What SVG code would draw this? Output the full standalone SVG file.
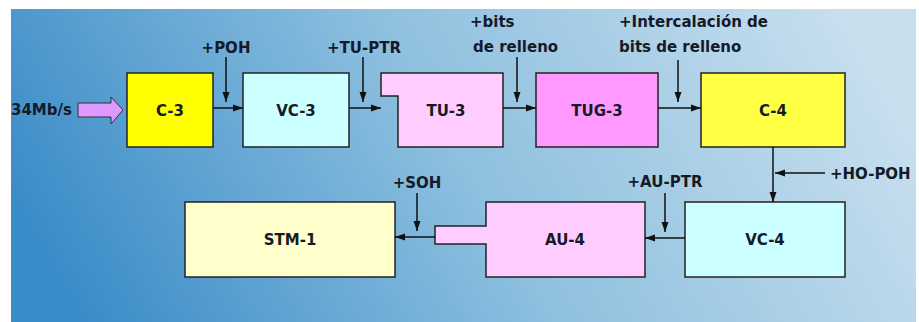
<svg xmlns="http://www.w3.org/2000/svg" width="919" height="322" viewBox="0 0 919 322">
<defs>
<linearGradient id="bg" x1="0" y1="0.6" x2="1" y2="0.4">
<stop offset="0" stop-color="#3a8cc8"/>
<stop offset="0.5" stop-color="#8ec0df"/>
<stop offset="1" stop-color="#c8dfee"/>
</linearGradient>
<marker id="ah" markerWidth="10" markerHeight="8" refX="10" refY="4" orient="auto" markerUnits="userSpaceOnUse">
<path d="M0,0.5 L10,4 L0,7.5 Z" fill="#111"/>
</marker>
<style>
.box{stroke:#222;stroke-width:1.5}
.lbl{font-family:"DejaVu Sans","Liberation Sans",Arial,sans-serif;font-weight:bold;font-size:15px;fill:#151a28;text-anchor:middle}
.txt{font-family:"DejaVu Sans","Liberation Sans",Arial,sans-serif;font-weight:bold;font-size:15px;fill:#151a28}
.ln{stroke:#111;stroke-width:1.5;fill:none;marker-end:url(#ah)}
</style>
</defs>
<rect x="0" y="0" width="919" height="322" fill="#ffffff"/>
<rect x="11" y="9" width="905" height="313" fill="url(#bg)"/>

<g id="input">
<text class="txt" x="11" y="115">34Mb/s</text>
<path d="M78,103 L111,103 L111,97 L123,110 L111,124 L111,117 L78,117 Z" fill="#dd99ff" stroke="#333" stroke-width="1"/>
</g>

<g id="c3">
<rect class="box" x="127" y="73" width="86" height="74" fill="#ffff00"/>
<text class="lbl" x="170" y="116">C-3</text>
</g>
<g id="vc3">
<rect class="box" x="243" y="73" width="106" height="74" fill="#ccffff"/>
<text class="lbl" x="296" y="116">VC-3</text>
</g>
<g id="tu3">
<path class="box" d="M381,73 L503,73 L503,147 L398,147 L398,96 L381,96 Z" fill="#ffccff"/>
<text class="lbl" x="446" y="116">TU-3</text>
</g>
<g id="tug3">
<rect class="box" x="536" y="73" width="122" height="74" fill="#ff99ff"/>
<text class="lbl" x="597" y="116">TUG-3</text>
</g>
<g id="c4">
<rect class="box" x="701" y="73" width="144" height="74" fill="#ffff44"/>
<text class="lbl" x="773" y="116">C-4</text>
</g>
<g id="stm1">
<rect class="box" x="185" y="202" width="210" height="75" fill="#ffffcc"/>
<text class="lbl" x="290" y="245">STM-1</text>
</g>
<g id="au4">
<path class="box" d="M486,202 L645,202 L645,277 L486,277 L486,244 L435,244 L435,226 L486,226 Z" fill="#ffccff"/>
<text class="lbl" x="565" y="245">AU-4</text>
</g>
<g id="vc4">
<rect class="box" x="685" y="202" width="160" height="75" fill="#ccffff"/>
<text class="lbl" x="765" y="245">VC-4</text>
</g>

<g id="labels">
<text class="lbl" x="226" y="53">+POH</text>
<text class="lbl" x="364" y="53">+TU-PTR</text>
<text class="txt" x="470" y="27">+bits</text>
<text class="txt" x="473" y="52">de relleno</text>
<text class="txt" x="619" y="27">+Intercalación de</text>
<text class="txt" x="619" y="52">bits de relleno</text>
<text class="txt" x="830" y="179">+HO-POH</text>
<text class="lbl" x="665" y="187">+AU-PTR</text>
<text class="lbl" x="417" y="188">+SOH</text>
</g>

<g id="connectors">
<line class="ln" x1="213" y1="108" x2="243" y2="108"/>
<line class="ln" x1="226" y1="57" x2="226" y2="102"/>
<line class="ln" x1="349" y1="108" x2="381" y2="108"/>
<line class="ln" x1="363" y1="57" x2="363" y2="102"/>
<line class="ln" x1="503" y1="108" x2="536" y2="108"/>
<line class="ln" x1="517" y1="57" x2="517" y2="102"/>
<line class="ln" x1="658" y1="108" x2="701" y2="108"/>
<line class="ln" x1="678" y1="60" x2="678" y2="102"/>
<line class="ln" x1="773" y1="147" x2="773" y2="202"/>
<line class="ln" x1="825" y1="173" x2="775" y2="173"/>
<line class="ln" x1="685" y1="238" x2="645" y2="238"/>
<line class="ln" x1="665" y1="193" x2="665" y2="232"/>
<line class="ln" x1="435" y1="237" x2="395" y2="237"/>
<line class="ln" x1="417" y1="193" x2="417" y2="231"/>
</g>
</svg>
